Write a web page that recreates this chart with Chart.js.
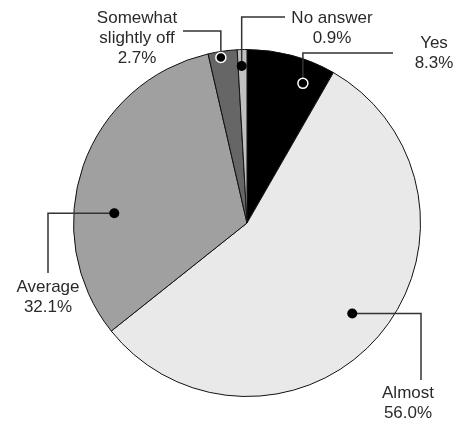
<!DOCTYPE html>
<html>
<head>
<meta charset="utf-8">
<script src="https://cdn.jsdelivr.net/npm/chart.js@4"></script>
<style>
  html, body { margin: 0; padding: 0; background: #fff; }
  #wrap { width: 470px; height: 423px; }
</style>
</head>
<body>
<div id="wrap"><canvas id="myChart" width="470" height="423"></canvas></div>
<script>
const labels = ["Yes", "Almost", "Average", "Somewhat slightly off", "No answer"];
const labelLines = [["Yes"], ["Almost"], ["Average"], ["Somewhat", "slightly off"], ["No answer"]];
const values = [8.3, 56.0, 32.1, 2.7, 0.9];
const colors = ["#000000", "#e8e9e8", "#a0a0a0", "#666666", "#c0c0c0"];

// where each leader starts inside its slice and how it bends to the text
const callouts = [
  { t: 0.73, r: 0.867, ring: true, path: [["v", 53], ["h", 393]], tx: 434, ty: 43 },
  { t: 0.50, r: 0.80, ring: false, path: [["h", 421], ["v", 380]], tx: 408, ty: 393 },
  { t: 0.37, r: 0.767, ring: false, path: [["h", 48], ["v", 273]], tx: 48, ty: 287 },
  { t: 0.41, r: 0.966, ring: true, path: [["v", 31], ["h", 183]], tx: 137, ty: 18 },
  { t: 0.40, r: 0.905, ring: false, path: [["v", 17], ["h", 285]], tx: 332, ty: 18 },
];

const calloutPlugin = {
  id: "callouts",
  afterDraw(chart) {
    const { ctx } = chart;
    const meta = chart.getDatasetMeta(0);
    ctx.save();
    meta.data.forEach((arc, i) => {
      const c = callouts[i];
      const { x, y, startAngle, endAngle, outerRadius } = arc.getProps(["x", "y", "startAngle", "endAngle", "outerRadius"], true);
      const a = startAngle + c.t * (endAngle - startAngle);
      let px = x + Math.cos(a) * outerRadius * c.r;
      let py = y + Math.sin(a) * outerRadius * c.r;
      const dotX = px, dotY = py;

      ctx.beginPath();
      ctx.moveTo(px, py);
      c.path.forEach(([dir, v]) => {
        if (dir === "v") py = v; else px = v;
        ctx.lineTo(px, py);
      });
      ctx.strokeStyle = "#333";
      ctx.lineWidth = 1.5;
      ctx.stroke();

      ctx.beginPath();
      ctx.arc(dotX, dotY, 5, 0, Math.PI * 2);
      ctx.fillStyle = "#000";
      ctx.fill();
      if (c.ring) {
        ctx.lineWidth = 1.5;
        ctx.strokeStyle = "#fff";
        ctx.stroke();
      }

      const lines = labelLines[i].concat([values[i].toFixed(1) + "%"]);
      ctx.fillStyle = "#2a2a2a";
      ctx.font = "17px 'Liberation Sans', Arial, sans-serif";
      ctx.textAlign = "center";
      ctx.textBaseline = "middle";
      lines.forEach((s, k) => ctx.fillText(s, c.tx, c.ty + k * 20));
    });
    ctx.restore();
  },
};

const data = {
  labels,
  datasets: [
    {
      data: values,
      backgroundColor: colors,
      borderColor: "#111",
      borderWidth: 1,
    },
  ],
};

new Chart(document.getElementById("myChart"), {
  type: "pie",
  data,
  options: {
    responsive: false,
    animation: false,
    layout: { padding: { left: 73, right: 49, top: 49, bottom: 26 } },
    plugins: {
      legend: { display: false },
      tooltip: { enabled: false },
    },
  },
  plugins: [calloutPlugin],
});
</script>
</body>
</html>
